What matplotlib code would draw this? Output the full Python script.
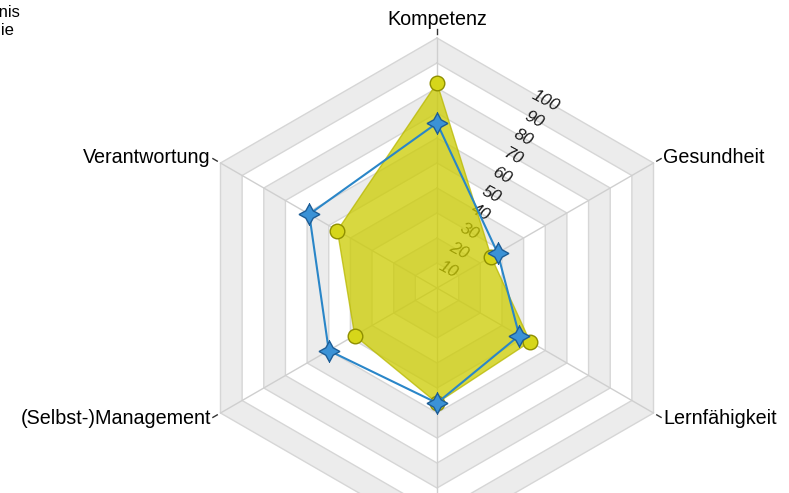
import numpy as np
import matplotlib.pyplot as plt

# ── data ──────────────────────────────────────────────────────────────────
categories = ["Kompetenz", "Gesundheit", "Lernfähigkeit", "Motivation",
              "(Selbst-)Management", "Verantwortung"]
ist_values = [82, 25, 43, 46, 38, 46]     # yellow area + circles
soll_values = [66, 28, 38, 46, 50, 59]    # blue line + stars
ring_levels = [10, 20, 30, 40, 50, 60, 70, 80, 90, 100]
ring_labels = ["10", "20", "30", "40", "50", "60", "70", "80", "90", "100"]

plt.rcParams["font.family"] = ["Liberation Sans", "DejaVu Sans"]

W, H = 789, 493
fig = plt.figure(figsize=(W / 100, H / 100), dpi=100)

# centre at (437, 288) px from top-left, r=100 -> 250 px
cx, cy, R = 437, H - 288, 250
ax = fig.add_axes([(cx - R) / W, (cy - R) / H, 2 * R / W, 2 * R / H],
                  projection="polar")
ax.set_theta_zero_location("N")
ax.set_theta_direction(-1)
ax.set_ylim(0, 100)
ax.grid(False)
ax.set_xticks([])
ax.set_yticks([])
ax.spines["polar"].set_visible(False)
ax.patch.set_visible(False)

n = len(categories)
theta = np.deg2rad(np.arange(n) * 360 / n)
theta_c = np.append(theta, theta[0])


def closed(vals):
    return np.append(vals, vals[0])


# ── background bands + ring outlines ─────────────────────────────────────
for i, v in enumerate(sorted(ring_levels, reverse=True)):
    face = "#ececec" if (v // 10) % 2 == 0 else "white"
    ax.fill(theta_c, [v] * (n + 1), color=face, zorder=1 + i * 0.01,
            clip_on=False, lw=0)
for v in ring_levels:
    ax.plot(theta_c, [v] * (n + 1), color="#d6d6d6", lw=1, zorder=2,
            clip_on=False)
for t in theta:
    ax.plot([t, t], [0, 100], color="#cfcfcf", lw=1, zorder=2, clip_on=False)
    ax.plot([t, t], [101.5, 103.5], color="#333333", lw=1, zorder=2,
            clip_on=False)

# radial tick labels along the 30° direction (edge midpoints)
for v, lab in zip(ring_levels, ring_labels):
    ax.text(np.deg2rad(30), v * np.cos(np.deg2rad(30)), lab, rotation=-28,
            ha="center", va="center", fontsize=12.5, style="italic",
            color="#1a1a1a", zorder=3, rotation_mode="anchor")

# ── data ──────────────────────────────────────────────────────────────────
ax.fill(theta_c, closed(ist_values), facecolor="#cccc00", alpha=0.75,
        edgecolor="#b8b800", lw=1, zorder=4)
ax.plot(theta, ist_values, ls="none", marker="o", ms=10.5,
        mfc="#d6d61a", mec="#8f8f00", mew=1, zorder=5)
ax.plot(theta_c, closed(soll_values), color="#2a86c8", lw=1.5, zorder=6)
ax.plot(theta, soll_values, ls="none", marker=(4, 1, 0), ms=15,
        mfc="#3b92d6", mec="#1d5d96", mew=1, zorder=7)

# ── category labels (bottom axis lies outside the visible area) ──────────
fs = 14.2
ax.text(theta[0], 107.5, categories[0], ha="center", va="center",
        fontsize=fs, clip_on=False)
ax.text(theta[1], 104.5, categories[1], ha="left", va="center",
        fontsize=fs, clip_on=False)
ax.text(theta[2], 104.5, categories[2], ha="left", va="center",
        fontsize=fs, clip_on=False)
ax.text(theta[4], 104.5, categories[4], ha="right", va="center",
        fontsize=fs, clip_on=False)
ax.text(theta[5], 104.5, categories[5], ha="right", va="center",
        fontsize=fs, clip_on=False)

# cut-off text at top-left
fig.text(21 / W, 1 - 17 / H, "Ergebnis", ha="right", va="baseline",
         fontsize=12)
fig.text(14 / W, 1 - 35 / H, "Strategie", ha="right", va="baseline",
         fontsize=12)

fig.savefig("out.png", dpi=100)
